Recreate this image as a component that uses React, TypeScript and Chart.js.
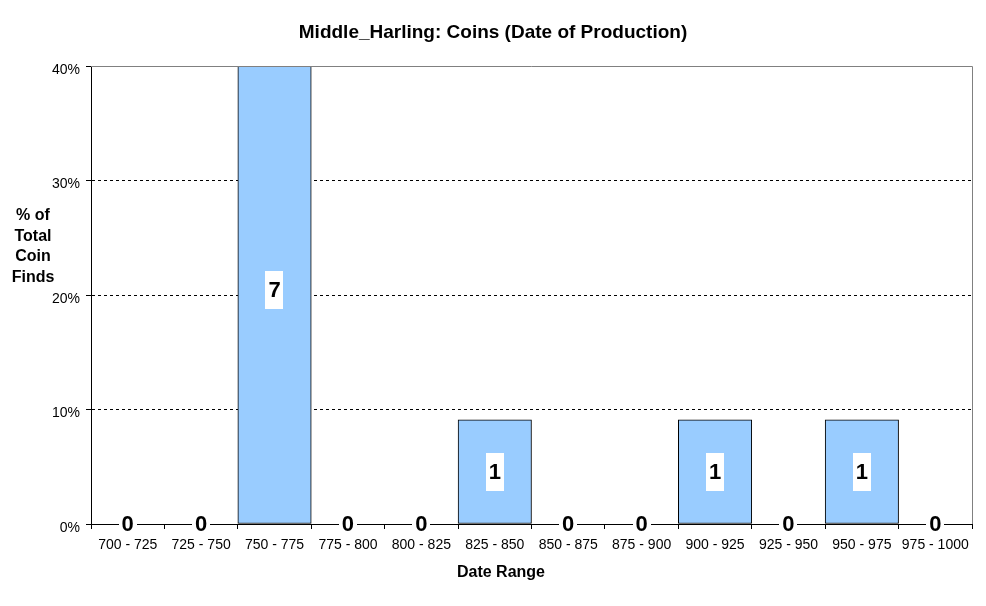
import React, { useEffect, useRef } from "react";
import { Chart, registerables } from "chart.js";

Chart.register(...registerables);

const chartTitle = "Middle_Harling: Coins (Date of Production)";
const xAxisTitle = "Date Range";
const yAxisTitleLines = ["% of", "Total", "Coin", "Finds"];
const categories = [
  "700 - 725", "725 - 750", "750 - 775", "775 - 800", "800 - 825", "825 - 850",
  "850 - 875", "875 - 900", "900 - 925", "925 - 950", "950 - 975", "975 - 1000",
];
const coinCounts = [0, 0, 7, 0, 0, 1, 0, 0, 1, 0, 1, 0];
const percentValues = [0, 0, 63.64, 0, 0, 9.09, 0, 0, 9.09, 0, 9.09, 0];
const yTickValues = [0, 10, 20, 30, 40];

const FONT = '"Liberation Sans", Arial, sans-serif';

const decorPlugin = {
  id: "decor",
  afterDatasetsDraw(chart: any) {
    const { ctx, chartArea } = chart;
    // frame (top + right)
    ctx.save();
    ctx.strokeStyle = "#808080";
    ctx.lineWidth = 1;
    ctx.beginPath();
    ctx.moveTo(Math.round(chartArea.left), Math.round(chartArea.top) + 0.5);
    ctx.lineTo(Math.round(chartArea.right) + 0.5, Math.round(chartArea.top) + 0.5);
    ctx.lineTo(Math.round(chartArea.right) + 0.5, Math.round(chartArea.bottom));
    ctx.stroke();
    ctx.restore();

    // value labels
    const meta = chart.getDatasetMeta(0);
    ctx.save();
    ctx.font = `bold 22px ${FONT}`;
    ctx.textAlign = "center";
    ctx.textBaseline = "middle";
    meta.data.forEach((bar: any, i: number) => {
      const label = String(coinCounts[i]);
      const top = Math.max(bar.y, chartArea.top - 10);
      const base = bar.base;
      const cy = coinCounts[i] === 0 ? base : (top + base) / 2;
      const w = ctx.measureText(label).width + 6;
      const h = coinCounts[i] === 0 ? 22 : 38;
      ctx.fillStyle = "#fff";
      ctx.fillRect(Math.round(bar.x - w / 2), Math.round(cy - h / 2), Math.round(w), h);
      ctx.fillStyle = "#000";
      ctx.fillText(label, bar.x, cy + 1);
    });
    ctx.restore();
  },
  afterDraw(chart: any) {
    const { ctx } = chart;
    ctx.save();
    ctx.fillStyle = "#000";
    ctx.textAlign = "center";
    ctx.textBaseline = "middle";
    ctx.font = `bold 19px ${FONT}`;
    ctx.fillText(chartTitle, 493, 33);
    ctx.font = `bold 16px ${FONT}`;
    ctx.fillText(xAxisTitle, 501, 573);
    const ys = [216, 237, 257, 278];
    yAxisTitleLines.forEach((t, i) => ctx.fillText(t, 33, ys[i]));
    ctx.restore();
  },
};

export default function App() {
  const ref = useRef<HTMLCanvasElement>(null);
  useEffect(() => {
    if (!ref.current) return;
    const chart = new Chart(ref.current, {
      type: "bar",
      data: {
        labels: categories,
        datasets: [
          {
            data: percentValues,
            backgroundColor: "#99CCFF",
            borderColor: "#000",
            borderWidth: 1,
            borderSkipped: false,
            barPercentage: 1,
            categoryPercentage: 1,
          },
        ],
      },
      options: {
        responsive: false,
        animation: false,
        devicePixelRatio: 1,
        layout: { padding: { left: 0, top: 66, right: 14, bottom: 0 } },
        plugins: { legend: { display: false }, tooltip: { enabled: false }, title: { display: false } },
        scales: {
          x: {
            type: "category",
            offset: true,
            grid: {
              offset: true,
              drawOnChartArea: false,
              drawTicks: true,
              tickLength: 5,
              tickColor: "#000",
              color: "#000",
            },
            border: { display: true, color: "#000", width: 1 },
            ticks: {
              color: "#000",
              font: { family: FONT, size: 14 },
              padding: 8,
              maxRotation: 0,
              autoSkip: false,
            },
            afterFit: (s: any) => {
              s.height = 82;
            },
          },
          y: {
            min: 0,
            max: 40,
            afterBuildTicks: (s: any) => {
              s.ticks = yTickValues.map((v) => ({ value: v }));
            },
            grid: {
              color: (c: any) => (c.tick && (c.tick.value === 0 || c.tick.value === 40) ? "rgba(0,0,0,0)" : "#000"),
              tickColor: "#000",
              tickLength: 5,
              tickBorderDash: [],
            },
            border: { display: true, color: "#000", width: 1, dash: [3, 3] },
            ticks: {
              color: "#000",
              font: { family: FONT, size: 14 },
              padding: 6,
              labelOffset: 4,
              callback: (v: any) => `${v}%`,
            },
            afterFit: (s: any) => {
              s.width = 91;
            },
          },
        },
      },
      plugins: [decorPlugin],
    });
    return () => chart.destroy();
  }, []);
  return (
    <canvas
      ref={ref}
      width={986}
      height={606}
      style={{ position: "absolute", left: 0, top: 0, background: "#fff" }}
    />
  );
}
